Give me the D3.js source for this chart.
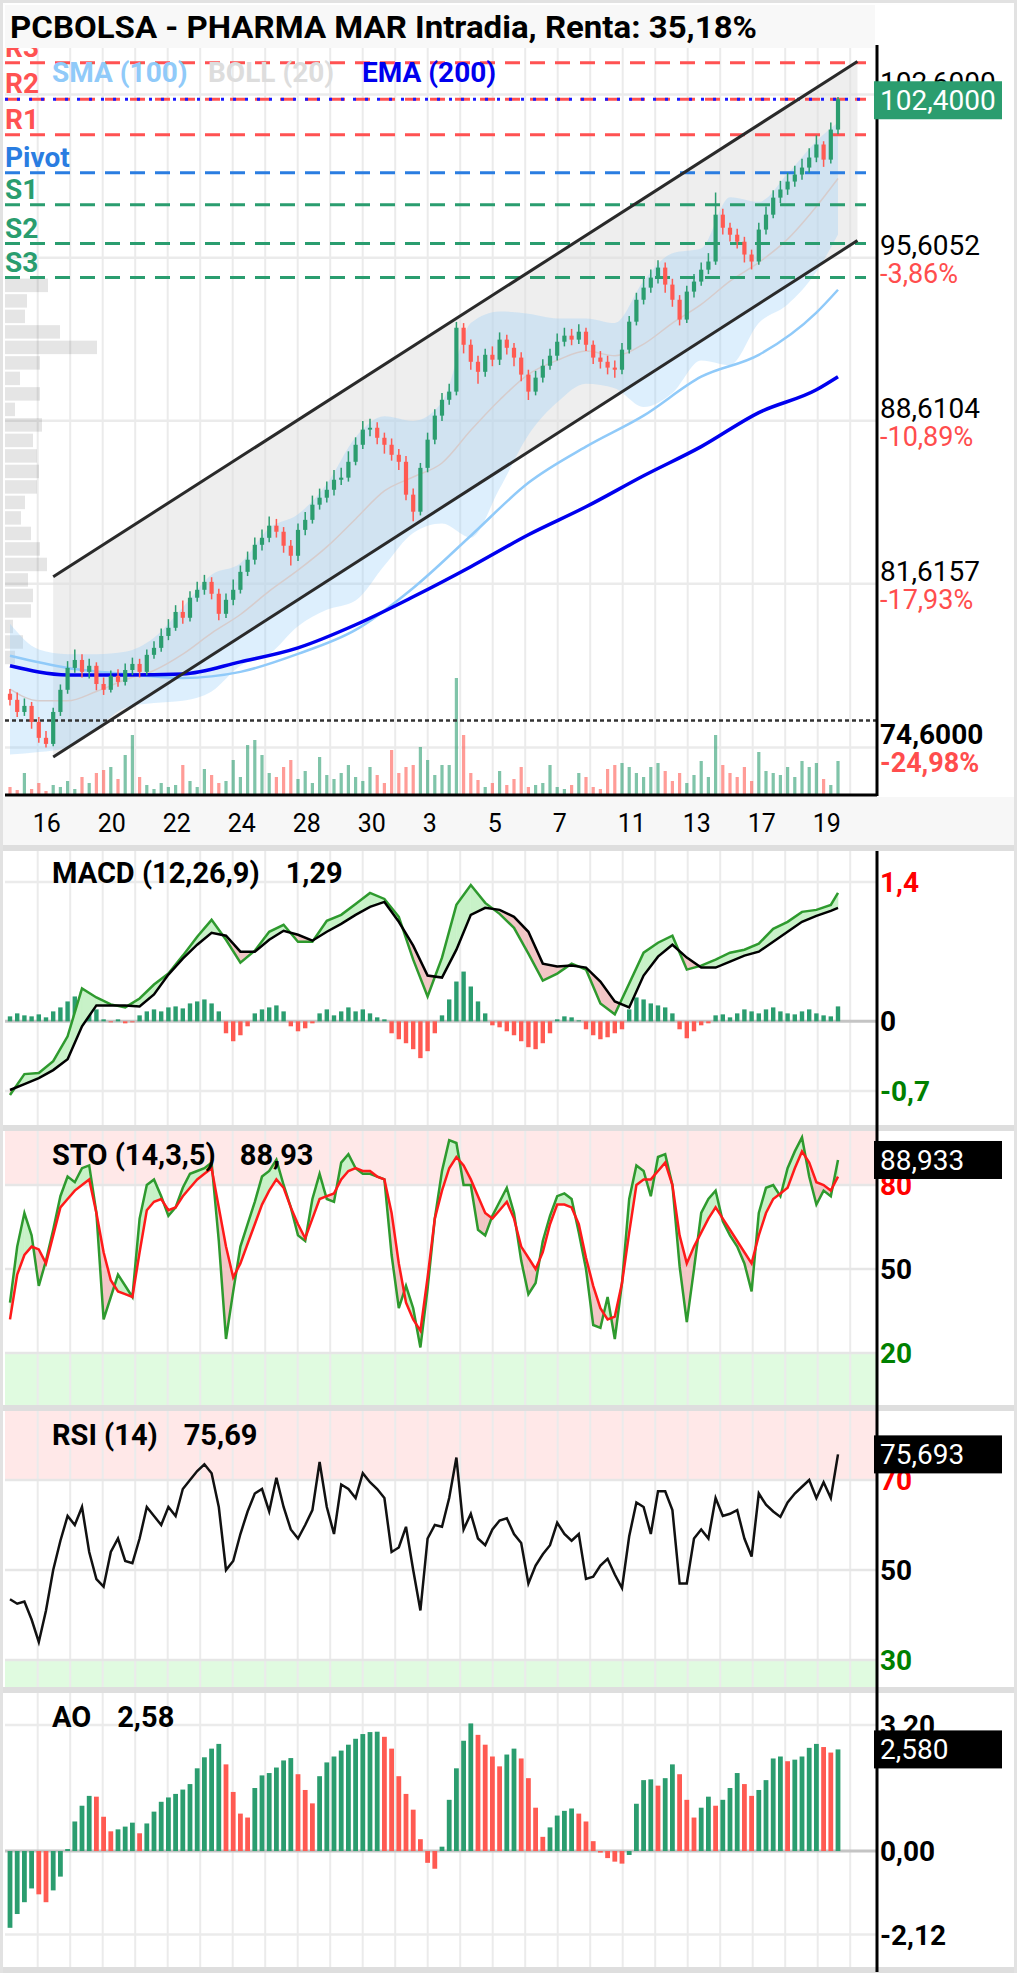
<!DOCTYPE html>
<html>
<head>
<script src="https://d3js.org/d3.v7.min.js"></script>
<style>
  body {margin: 0; background: #fff;}
  svg text {font-family: Roboto, "Noto Sans", sans-serif;}
</style>
</head>
<body>
<svg id="chart" width="1017" height="1975"></svg>
<script>
// ---- price candles (2h bars) ----
const opens = [76.90,76.64,76.12,76.38,75.69,75.01,74.75,76.12,77.07,78.01,
  78.35,77.84,78.10,77.32,77.07,77.67,77.41,77.92,78.18,77.84,
  78.57,78.87,79.38,79.73,80.41,80.16,81.02,81.36,81.70,81.19,
  80.33,80.93,81.36,82.13,82.65,83.29,83.59,84.11,83.85,83.25,
  82.82,83.93,84.36,85.01,85.31,85.65,86.08,86.17,86.85,87.58,
  88.23,88.31,87.88,87.58,87.15,86.85,85.44,84.71,86.59,87.80,
  88.83,89.51,89.86,92.60,91.87,91.14,90.71,91.44,91.23,92.09,
  91.74,91.32,90.59,89.86,90.46,90.97,91.40,92.00,92.26,92.09,
  92.43,91.87,91.32,91.14,90.89,90.80,91.66,92.86,93.80,94.32,
  94.75,95.18,94.45,93.80,92.95,94.15,94.58,95.09,95.44,97.45,
  96.89,96.59,96.29,95.74,95.44,96.81,97.45,98.18,98.53,98.87,
  99.17,99.47,99.90,100.46,99.81,101.10];
const closes = [76.64,76.12,76.38,75.69,75.01,74.75,76.12,77.07,78.01,78.35,
  77.84,78.10,77.32,77.07,77.67,77.41,77.92,78.18,77.84,78.57,
  78.87,79.38,79.73,80.41,80.16,81.02,81.36,81.70,81.19,80.33,
  80.93,81.36,82.13,82.65,83.29,83.59,84.11,83.85,83.25,82.82,
  83.93,84.36,85.01,85.31,85.65,86.08,86.17,86.85,87.58,88.23,
  88.31,87.88,87.58,87.15,86.85,85.44,84.71,86.59,87.80,88.83,
  89.51,89.86,92.60,91.87,91.14,90.71,91.44,91.23,92.09,91.74,
  91.32,90.59,89.86,90.46,90.97,91.40,92.00,92.26,92.09,92.43,
  91.87,91.32,91.14,90.89,90.80,91.66,92.86,93.80,94.32,94.75,
  95.18,94.45,93.80,92.95,94.15,94.58,95.09,95.44,97.45,96.89,
  96.59,96.29,95.74,95.44,96.81,97.45,98.18,98.53,98.87,99.17,
  99.47,99.90,100.46,99.81,101.10,102.40];
const highs = [77.10,76.95,76.70,76.55,75.90,75.30,76.30,77.30,78.30,78.80,
  78.60,78.40,78.25,77.60,77.90,77.95,78.20,78.45,78.40,78.80,
  79.15,79.70,80.10,80.70,80.90,81.30,81.70,82.00,81.90,81.40,
  81.20,81.80,82.40,83.00,83.60,83.95,84.50,84.40,84.05,83.50,
  84.20,84.70,85.40,85.70,86.00,86.50,86.60,87.30,87.90,88.60,
  88.70,88.55,88.10,87.85,87.40,87.10,85.70,86.80,88.10,89.10,
  89.80,90.20,92.85,92.80,92.10,91.40,91.70,91.80,92.40,92.30,
  91.95,91.55,90.80,90.75,91.25,91.70,92.35,92.60,92.55,92.75,
  92.60,92.05,91.60,91.40,91.20,91.95,93.10,94.10,94.70,95.10,
  95.50,95.40,94.70,94.00,94.40,94.90,95.40,95.80,98.40,97.70,
  97.10,96.85,96.50,95.95,97.10,97.80,98.50,98.90,99.25,99.55,
  99.85,100.30,100.85,100.60,101.40,102.50];
const lows = [76.40,75.90,75.95,75.40,74.80,74.60,74.65,75.95,76.90,77.80,
  77.60,77.55,77.05,76.85,76.95,77.20,77.25,77.70,77.60,77.70,
  78.40,78.70,79.20,79.60,79.90,80.00,80.85,81.15,80.95,80.05,
  80.15,80.70,81.20,81.95,82.45,83.05,83.40,83.60,82.95,82.40,
  82.60,83.70,84.20,84.80,85.10,85.40,85.85,86.00,86.70,87.40,
  87.95,87.60,87.20,86.90,86.50,85.20,84.30,84.55,86.40,87.60,
  88.60,89.30,89.70,91.50,90.80,90.20,90.50,90.95,91.00,91.45,
  90.95,90.30,89.50,89.70,90.25,90.80,91.20,91.80,91.85,91.90,
  91.60,91.05,90.85,90.60,90.45,90.60,91.50,92.70,93.60,94.10,
  94.50,94.10,93.50,92.70,92.80,93.90,94.40,94.90,95.30,96.60,
  96.30,96.00,95.40,95.10,95.30,96.60,97.30,97.95,98.30,98.65,
  98.95,99.25,99.70,99.50,99.65,100.90];
const volumes = [8,5,22,6,12,4,10,8,14,6,
  18,12,22,25,28,16,40,60,18,10,
  6,12,8,10,30,14,8,26,20,12,
  14,35,18,50,55,40,22,18,28,35,
  16,24,12,38,20,16,22,30,18,14,
  28,20,12,45,22,28,30,48,35,20,
  30,30,117,60,22,15,8,12,24,10,
  16,28,8,10,12,30,8,6,10,22,
  18,8,6,26,30,32,28,22,18,28,
  32,24,14,22,12,20,34,18,60,30,
  22,18,28,14,43,24,22,20,28,18,
  34,28,32,16,10,34];

// ---- overlays (sampled every few bars) ----
const bollBars = [0,4,8,12,16,20,24,28,32,36,40,44,48,52,56,60,64,68,72,76,80,84,88,92,96,100,104,108,112,115];
const bollMid = [77.1,76.6,76.6,77.0,77.5,77.9,78.6,79.5,80.3,81.3,82.2,83.2,84.4,85.6,86.2,86.8,88.2,89.5,90.6,91.2,91.6,91.4,91.9,92.8,93.6,94.6,95.4,96.4,97.8,99.0];
const bollUp = [79.9,78.8,78.6,78.6,78.7,79.3,80.6,82.0,82.5,84.0,84.6,85.9,87.9,88.8,88.6,89.4,92.8,93.3,93.2,93.0,93.0,92.8,94.6,95.8,96.0,98.2,98.0,99.2,100.6,101.4];
const bollLow = [74.3,74.4,74.6,75.4,76.3,76.5,76.6,77.0,78.1,78.6,79.8,80.5,80.9,82.4,83.8,84.2,83.6,85.7,88.0,89.4,90.2,90.0,89.2,89.8,91.2,91.0,92.8,93.6,95.0,96.6];
const maBars = [0,8,16,24,32,40,48,56,64,72,80,88,96,104,112,115];
const sma100 = [78.53,78.01,77.75,77.58,77.84,78.61,79.64,81.44,83.68,85.95,87.50,88.83,90.50,91.44,93.25,94.23];
const ema200 = [78.10,77.71,77.71,77.75,78.27,78.87,79.86,81.06,82.35,83.72,84.92,86.25,87.50,88.96,89.94,90.50];

// channel: [bar, price] ends
const channelUpper = [[6, 81.92], [117.7, 104.02]];
const channelLower = [[6, 74.19], [117.7, 96.34]];

// pivots
const pivotNames = ["R3","R2","R1","Pivot","S1","S2","S3"];
const pivotValues = [103.97,102.40,100.88,99.25,97.88,96.21,94.75];
const lastPrice = 102.40;
const startPrice = 75.75;

// right axis
const priceTicks = [102.6, 95.6052, 88.6104, 81.6157, 74.6];
const priceTickPct = ["", "-3,86%", "-10,89%", "-17,93%", "-24,98%"];

// volume profile (top bin price, bin size, volume per bin)
const vpTop = 94.75, vpStep = 0.665;
const vpVol = [43,22,20,55,92,35,15,35,10,37,28,32,34,32,20,16,26,35,42,23,28,26,8,18,10];

// x labels (every 2 sessions)
const dayLabels = ["16","20","22","24","28","30","3","5","7","11","13","17","19"];

// ---- MACD (sampled every 2 bars) ----
const lineBars = [0,2,4,6,8,10,12,14,16,18,20,22,24,26,28,30,32,34,36,38,40,42,44,46,48,50,52,54,56,58,
  60,62,64,66,68,70,72,74,76,78,80,82,84,86,88,90,92,94,96,98,100,102,104,106,108,110,112,114,115];
const macdLine = [-0.74,-0.53,-0.52,-0.40,-0.15,0.33,0.24,0.17,0.14,0.23,
  0.37,0.48,0.66,0.85,1.02,0.82,0.59,0.71,0.90,0.97,
  0.80,0.80,1.01,1.07,1.18,1.29,1.23,1.05,0.62,0.25,
  0.64,1.17,1.37,1.19,1.08,0.94,0.68,0.41,0.48,0.58,
  0.52,0.18,0.07,0.38,0.69,0.79,0.86,0.52,0.56,0.62,
  0.69,0.72,0.78,0.93,1.00,1.10,1.12,1.17,1.29];
const macdSignal = [-0.69,-0.63,-0.57,-0.49,-0.38,-0.05,0.16,0.16,0.16,0.15,
  0.27,0.47,0.63,0.77,0.89,0.86,0.70,0.70,0.82,0.91,
  0.87,0.81,0.90,0.98,1.07,1.15,1.20,1.00,0.76,0.46,
  0.44,0.72,1.07,1.14,1.12,1.05,0.90,0.58,0.55,0.56,
  0.54,0.40,0.20,0.14,0.46,0.65,0.77,0.64,0.54,0.54,
  0.60,0.66,0.70,0.80,0.90,1.00,1.06,1.11,1.14];
const macdHist = [0.05,0.08,0.06,0.05,0.07,0.04,0.10,0.14,0.20,0.25,
  0.30,0.28,0.12,0.02,-0.01,0.02,-0.02,-0.01,0.06,0.10,
  0.12,0.10,0.14,0.15,0.13,0.18,0.20,0.22,0.18,0.10,
  -0.12,-0.20,-0.14,-0.05,0.08,0.12,0.14,0.16,0.10,-0.05,
  -0.10,-0.07,-0.02,0.08,0.12,0.06,0.10,0.14,0.10,0.12,
  0.08,0.04,0.02,-0.12,-0.18,-0.22,-0.28,-0.37,-0.30,-0.12,
  0.06,0.22,0.40,0.50,0.35,0.20,0.08,-0.04,-0.06,-0.10,
  -0.14,-0.20,-0.26,-0.28,-0.22,-0.12,0.02,0.05,0.04,0.01,
  -0.08,-0.14,-0.18,-0.16,-0.12,-0.08,0.12,0.24,0.22,0.18,
  0.16,0.14,0.08,-0.08,-0.17,-0.10,-0.04,-0.02,0.06,0.07,
  0.04,0.08,0.12,0.10,0.08,0.12,0.14,0.10,0.08,0.07,
  0.10,0.12,0.08,0.06,0.05,0.15];

// ---- oscillators (every bar) ----
const stoK = [38,58,70,62,44,53,64,76,83,81,
  86,87,70,32,40,48,44,40,68,80,
  82,76,69,72,79,84,85,86,88,60,
  25,42,58,66,74,83,85,89,80,72,
  62,60,75,84,75,74,88,91,86,84,
  84,83,82,55,36,44,36,22,43,68,
  85,96,95,80,80,64,62,69,74,79,
  70,53,41,45,60,69,76,77,75,63,
  50,30,29,40,25,45,75,87,85,76,
  90,91,80,51,31,50,70,75,78,67,
  62,58,52,42,70,79,80,76,86,92,
  97,83,73,78,76,88.93];
const stoD = [32,48,55,58,57,52,62,72,75,78,
  80,82,70,56,46,42,41,40,56,71,
  74,75,71,72,76,79,82,84,86,72,
  58,47,52,59,66,73,78,82,79,72,
  66,61,68,75,76,77,82,85,86,85,
  85,83,82,70,52,38,32,28,47,68,
  78,86,90,87,82,76,70,68,71,74,
  68,58,54,50,56,66,73,73,72,66,
  54,44,36,32,33,45,63,80,82,82,
  85,88,80,62,52,58,63,68,72,68,
  64,60,56,52,62,70,75,77,79,86,
  92,88,81,80,78,83];
const rsi = [43.5,42.5,43,39,34,41,50,56.5,62,60,
  64,54,48,46.3,54,57,52,51.5,57,64,
  62,60,64,62,68,70,72,73.5,71.5,64,
  50,52,58,63,67,68,63,70.5,64,59,
  57,60,63.3,74,64,58,69,68,66,71.5,
  69.5,68,66,54,55,59.6,50,41,57,60,
  59.6,66,75,59,62.5,57,55.5,59,61,61.5,
  58,56,47,51,53.5,55.5,60.5,58,56.5,58,
  48,48.5,51,52.5,49,46,57.5,65,64,58,
  67.5,67.5,63.3,47,47,57,59,57,66,62,
  62.5,63.3,57,53,67,64.5,63,61.8,65,67,
  68.5,70,66,69.5,66,75.69];
const ao = [-1.95,-1.60,-1.30,-0.95,-1.10,-1.30,-1.00,-0.65,0.05,0.75,
  1.15,1.40,1.38,0.87,0.50,0.55,0.62,0.72,0.45,0.70,
  1.00,1.25,1.36,1.45,1.56,1.70,2.10,2.38,2.60,2.72,
  2.20,1.50,0.95,0.85,1.60,1.92,1.98,2.12,2.30,2.36,
  1.95,1.55,1.21,1.90,2.25,2.40,2.55,2.70,2.85,2.97,
  3.02,3.03,2.90,2.60,1.90,1.45,1.05,0.30,-0.30,-0.45,
  0.11,1.30,2.10,2.80,3.24,2.95,2.70,2.40,2.15,2.45,
  2.60,2.35,1.85,1.10,0.36,0.60,0.90,1.02,1.08,0.95,
  0.75,0.25,-0.04,-0.18,-0.27,-0.32,-0.10,1.20,1.80,1.82,
  1.66,1.85,2.20,1.95,1.30,0.85,1.10,1.38,1.15,1.30,
  1.60,1.98,1.70,1.40,1.55,1.80,2.35,2.40,2.28,2.32,
  2.40,2.62,2.72,2.64,2.50,2.58];

// ---------------- drawing ----------------
const GREEN = "#2b9d6f", RED = "#ff5a52";
const W = 1017, H = 1975, L = 5, R = 877;
const svg = d3.select("#chart");
const N = closes.length;
const idx = d3.range(N);
const x = d3.scaleLinear().domain([0, N - 1]).range([10, 838]);
const dayX = d3.scaleLinear().domain([0, 1]).range([37.7, 70.2]);
const fmt4 = v => d3.format(".4f")(v).replace(".", ",");

svg.append("rect").attr("x", 1.5).attr("y", 1.5).attr("width", W - 3).attr("height", H - 5)
  .attr("fill", "#fff").attr("stroke", "#e2e2e2").attr("stroke-width", 3);

function vgrid(top, bottom) {
  svg.append("g").selectAll("line").data(d3.range(26)).join("line")
    .attr("x1", d => dayX(d)).attr("x2", d => dayX(d)).attr("y1", top).attr("y2", bottom)
    .attr("stroke", "#ebebeb").attr("stroke-width", 2);
}
function hline(yv, color, width, dash, x1 = L, x2 = R) {
  svg.append("line").attr("x1", x1).attr("x2", x2).attr("y1", yv).attr("y2", yv)
    .attr("stroke", color).attr("stroke-width", width).attr("stroke-dasharray", dash || null);
}
function label(xp, yp, txt, size, color, weight, anchor) {
  return svg.append("text").attr("x", xp).attr("y", yp).attr("font-size", size)
    .attr("fill", color).attr("font-weight", weight || 400).attr("text-anchor", anchor || "start").text(txt);
}
function diffFill(g, bars, a, b, ys, upCol, downCol) {
  const poly = (pts, c) => g.append("path").attr("d", d3.line()(pts) + "Z")
    .attr("fill", c).attr("stroke", c).attr("stroke-width", 0.6);
  for (let k = 0; k < bars.length - 1; k++) {
    const x0 = x(bars[k]), x1 = x(bars[k + 1]);
    const d0 = a[k] - b[k], d1 = a[k + 1] - b[k + 1];
    if (d0 * d1 >= 0) {
      poly([[x0, ys(a[k])], [x1, ys(a[k + 1])], [x1, ys(b[k + 1])], [x0, ys(b[k])]], d0 + d1 >= 0 ? upCol : downCol);
    } else {
      const t = d0 / (d0 - d1), xm = x0 + t * (x1 - x0), vm = a[k] + t * (a[k + 1] - a[k]);
      poly([[x0, ys(a[k])], [xm, ys(vm)], [x0, ys(b[k])]], d0 > 0 ? upCol : downCol);
      poly([[xm, ys(vm)], [x1, ys(a[k + 1])], [x1, ys(b[k + 1])]], d1 > 0 ? upCol : downCol);
    }
  }
}
function badge(yc, txt, fill) {
  svg.append("rect").attr("x", 874).attr("y", yc - 19).attr("width", 128).attr("height", 38).attr("fill", fill);
  label(880, yc + 10, txt, 28, "#fff", 400);
}
function panelTitle(yp, name, value, gap) {
  svg.append("text").attr("x", 52).attr("y", yp).attr("font-size", 29).attr("font-weight", 700)
    .call(t => { t.append("tspan").text(name); t.append("tspan").attr("dx", gap).text(value); });
}

// ===== main price panel =====
const y = d3.scaleLinear().domain([74.6, 102.6]).range([747.4, 94.6]);
vgrid(48, 795);
priceTicks.forEach(v => hline(y(v), "#ebebeb", 2.5));

// volume profile
svg.append("g").selectAll("rect").data(vpVol).join("rect")
  .attr("x", L).attr("y", (d, k) => y(vpTop - k * vpStep) + 1)
  .attr("height", (d, k) => y(vpTop - (k + 1) * vpStep) - y(vpTop - k * vpStep) - 2)
  .attr("width", d => d).attr("fill", "#000").attr("opacity", 0.1);

// channel fill
const chPts = [channelUpper[0], channelUpper[1], channelLower[1], channelLower[0]].map(p => [x(p[0]), y(p[1])]);
svg.append("path").attr("d", d3.line()(chPts) + "Z").attr("fill", "#dedede").attr("opacity", 0.5);

// bollinger
const boll = bollBars.map((b, k) => ({b, m: bollMid[k], u: bollUp[k], l: bollLow[k]}));
svg.append("path").datum(boll)
  .attr("d", d3.area().x(d => x(d.b)).y0(d => y(d.l)).y1(d => y(d.u)).curve(d3.curveMonotoneX))
  .attr("fill", "#90caf9").attr("opacity", 0.3);
svg.append("path").datum(boll)
  .attr("d", d3.line().x(d => x(d.b)).y(d => y(d.m)).curve(d3.curveMonotoneX))
  .attr("fill", "none").attr("stroke", "#d6cccc").attr("stroke-width", 1.5);

// moving averages
svg.append("path").datum(maBars.map((b, k) => [x(b), y(sma100[k])]))
  .attr("d", d3.line().curve(d3.curveMonotoneX)).attr("fill", "none")
  .attr("stroke", "#90caf9").attr("stroke-width", 2.5);
svg.append("path").datum(maBars.map((b, k) => [x(b), y(ema200[k])]))
  .attr("d", d3.line().curve(d3.curveMonotoneX)).attr("fill", "none")
  .attr("stroke", "#0000ee").attr("stroke-width", 3.5);

// pivots
const pivotColors = ["#ff5252","#ff5252","#ff5252","#2a7de1","#2a9d6f","#2a9d6f","#2a9d6f"];
pivotValues.forEach((v, k) => {
  hline(y(v), pivotColors[k], 3, "15,10", L, 866);
  label(L, y(v) - 6, pivotNames[k], 28, pivotColors[k], 700);
});
hline(y(lastPrice), "#1a1aff", 3, "3,9", L, 866);

// volume bars
const yv = d3.scaleLinear().domain([0, 117]).range([795, 678]);
svg.append("g").selectAll("rect").data(volumes).join("rect")
  .attr("x", (d, i) => x(i) - 1.6).attr("width", 3.2)
  .attr("y", d => yv(d)).attr("height", d => 795 - yv(d))
  .attr("fill", (d, i) => closes[i] >= opens[i] ? GREEN : RED).attr("opacity", 0.6);

// start price dotted line
hline(y(startPrice), "#333", 2.5, "4,3");

// candles
svg.append("g").selectAll("line").data(idx).join("line")
  .attr("x1", i => x(i)).attr("x2", i => x(i)).attr("y1", i => y(highs[i])).attr("y2", i => y(lows[i]))
  .attr("stroke", i => closes[i] >= opens[i] ? GREEN : RED).attr("stroke-width", 1.5);
svg.append("g").selectAll("rect").data(idx).join("rect")
  .attr("x", i => x(i) - 2.1).attr("width", 4.2)
  .attr("y", i => y(Math.max(opens[i], closes[i])))
  .attr("height", i => Math.max(1.5, Math.abs(y(opens[i]) - y(closes[i]))))
  .attr("fill", i => closes[i] >= opens[i] ? GREEN : RED);

// channel lines
[channelUpper, channelLower].forEach(c => {
  svg.append("line").attr("x1", x(c[0][0])).attr("y1", y(c[0][1])).attr("x2", x(c[1][0])).attr("y2", y(c[1][1]))
    .attr("stroke", "#2a2a2a").attr("stroke-width", 3);
});

// legend
label(52, 82, "SMA (100)", 28, "#90caf9", 700);
label(208, 82, "BOLL (20)", 28, "#dddddd", 700);
label(362, 82, "EMA (200)", 28, "#0000ee", 700);

// title bar
svg.append("rect").attr("x", L).attr("y", 5).attr("width", R - L - 2).attr("height", 43).attr("fill", "#f8f8f8");
label(10, 38, "PCBOLSA - PHARMA MAR Intradia, Renta: 35,18%", 31, "#000", 700)
  .attr("textLength", 747).attr("lengthAdjust", "spacingAndGlyphs");

// x axis band
svg.append("rect").attr("x", 3).attr("y", 797).attr("width", W - 6).attr("height", 48).attr("fill", "#f7f7f7");
dayLabels.forEach((t, k) => label(dayX(2 * k) - 5, 832, t, 25, "#000", 400));

// right axis labels main
priceTicks.forEach((v, k) => {
  const last = k === priceTicks.length - 1;
  label(880, y(v) - 3, fmt4(v), 28, "#000", last ? 700 : 400);
  if (priceTickPct[k]) label(880, y(v) + 25, priceTickPct[k], 27, "#ff4d4d", last ? 700 : 400);
});

// ===== MACD =====
const ym = d3.scaleLinear().domain([-0.7, 1.4]).range([1091, 882]);
vgrid(850, 1125);
hline(ym(1.4), "#ebebeb", 2.5); hline(ym(-0.7), "#ebebeb", 2.5);
hline(ym(0), "#c4c4c4", 3);
svg.append("g").selectAll("rect").data(macdHist).join("rect")
  .attr("x", (d, i) => x(i) - 2.2).attr("width", 4.4)
  .attr("y", d => Math.min(ym(d), ym(0))).attr("height", d => Math.abs(ym(d) - ym(0)))
  .attr("fill", d => d >= 0 ? GREEN : RED);
diffFill(svg.append("g"), lineBars, macdLine, macdSignal, ym, "#c8f2c8", "#f2c6c6");
svg.append("path").datum(lineBars.map((b, k) => [x(b), ym(macdLine[k])]))
  .attr("d", d3.line()).attr("fill", "none").attr("stroke", "#2e9a2e").attr("stroke-width", 2.5);
svg.append("path").datum(lineBars.map((b, k) => [x(b), ym(macdSignal[k])]))
  .attr("d", d3.line()).attr("fill", "none").attr("stroke", "#000").attr("stroke-width", 2.5);
panelTitle(883, "MACD (12,26,9)", "1,29", 26);
label(880, ym(1.4) + 10, "1,4", 28, "#ff0000", 700);
label(880, ym(0) + 10, "0", 28, "#000", 700);
label(880, ym(-0.7) + 10, "-0,7", 28, "#008000", 700);

// ===== STO =====
const ys = d3.scaleLinear().domain([0, 100]).range([1409, 1129]);
svg.append("rect").attr("x", L).attr("y", 1130).attr("width", R - L).attr("height", ys(80) - 1130).attr("fill", "#ffe8e8");
svg.append("rect").attr("x", L).attr("y", ys(20)).attr("width", R - L).attr("height", 1405 - ys(20)).attr("fill", "#e0fbe0");
vgrid(1130, 1405);
[80, 50, 20].forEach(v => hline(ys(v), "#e6e6e6", 2.5));
diffFill(svg.append("g"), idx, stoK, stoD, ys, "#c8f2c8", "#f2c6c6");
svg.append("path").datum(idx.map(i => [x(i), ys(stoK[i])]))
  .attr("d", d3.line()).attr("fill", "none").attr("stroke", "#2e9a2e").attr("stroke-width", 2.5);
svg.append("path").datum(idx.map(i => [x(i), ys(stoD[i])]))
  .attr("d", d3.line()).attr("fill", "none").attr("stroke", "#ff1a1a").attr("stroke-width", 2.5);
panelTitle(1165, "STO (14,3,5)", "88,93", 24);
label(880, ys(80) + 10, "80", 28, "#ff0000", 700);
label(880, ys(50) + 10, "50", 28, "#000", 700);
label(880, ys(20) + 10, "20", 28, "#008000", 700);

// ===== RSI =====
const yr = d3.scaleLinear().domain([30, 70]).range([1660, 1480]);
svg.append("rect").attr("x", L).attr("y", 1411).attr("width", R - L).attr("height", yr(70) - 1411).attr("fill", "#ffe8e8");
svg.append("rect").attr("x", L).attr("y", yr(30)).attr("width", R - L).attr("height", 1687 - yr(30)).attr("fill", "#e0fbe0");
vgrid(1411, 1687);
[70, 50, 30].forEach(v => hline(yr(v), "#e6e6e6", 2.5));
svg.append("path").datum(idx.map(i => [x(i), yr(rsi[i])]))
  .attr("d", d3.line()).attr("fill", "none").attr("stroke", "#111").attr("stroke-width", 2.5);
panelTitle(1445, "RSI (14)", "75,69", 26);
label(880, yr(70) + 10, "70", 28, "#ff0000", 700);
label(880, yr(50) + 10, "50", 28, "#000", 700);
label(880, yr(30) + 10, "30", 28, "#008000", 700);

// ===== AO =====
const ya = d3.scaleLinear().domain([-2.12, 3.2]).range([1934.5, 1725]);
vgrid(1693, 1967);
hline(ya(3.2), "#ebebeb", 2.5); hline(ya(-2.12), "#ebebeb", 2.5);
hline(ya(0), "#c4c4c4", 3);
svg.append("g").selectAll("rect").data(ao).join("rect")
  .attr("x", (d, i) => x(i) - 2.4).attr("width", 4.8)
  .attr("y", d => Math.min(ya(d), ya(0))).attr("height", d => Math.abs(ya(d) - ya(0)))
  .attr("fill", (d, i) => i === 0 || d >= ao[i - 1] ? GREEN : RED);
panelTitle(1727, "AO", "2,58", 26);
label(880, ya(3.2) + 10, "3,20", 28, "#000", 700);
label(880, ya(0) + 10, "0,00", 28, "#000", 700);
label(880, ya(-2.12) + 10, "-2,12", 28, "#000", 700);

// separators
[845, 1125, 1405, 1687, 1967].forEach(s => svg.append("rect").attr("x", 3).attr("y", s).attr("width", W - 6).attr("height", 6).attr("fill", "#dedede"));

// axes
svg.append("line").attr("x1", L).attr("x2", R).attr("y1", 795).attr("y2", 795).attr("stroke", "#000").attr("stroke-width", 3);
svg.append("line").attr("x1", R).attr("x2", R).attr("y1", 45).attr("y2", 796).attr("stroke", "#000").attr("stroke-width", 3);
svg.append("line").attr("x1", R).attr("x2", R).attr("y1", 851).attr("y2", 1972).attr("stroke", "#000").attr("stroke-width", 3);

// value badges
badge(y(lastPrice) + 1, fmt4(lastPrice), GREEN);
badge(ys(88.933), "88,933", "#000");
badge(yr(75.693), "75,693", "#000");
badge(ya(2.58), "2,580", "#000");
</script>
